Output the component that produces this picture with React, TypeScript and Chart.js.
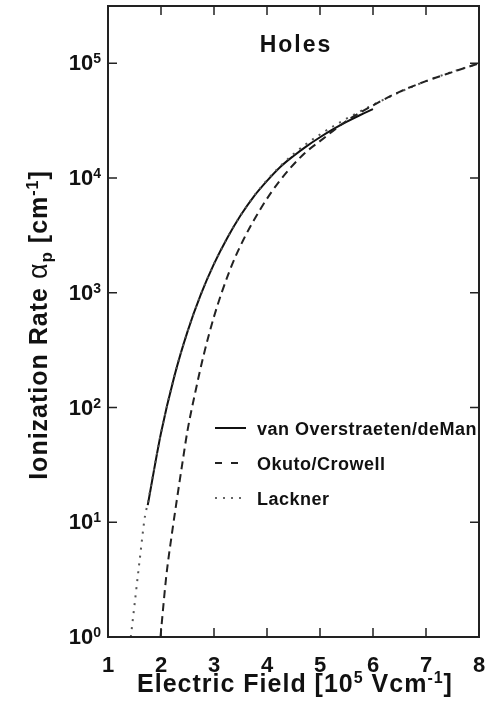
import React, { useEffect, useRef } from 'react';
import { Chart, registerables } from 'chart.js';

Chart.register(...registerables);

// ---- data ----
const vosX = [1.75, 2.0, 2.25, 2.5, 2.75, 3.0, 3.25, 3.5, 3.75, 4.0, 4.25, 4.5, 4.75, 5.0, 5.25, 5.5, 5.75, 6.0];
const vosY = [14.1, 60, 186, 459, 963, 1786, 3006, 4716, 6900, 9450, 12500, 15600, 19000, 22700, 26700, 30900, 35300, 39900];

const okutoX = [1.99, 2.1, 2.2, 2.3, 2.4, 2.5, 2.65, 2.8, 3.0, 3.3, 3.55, 3.9, 4.25, 4.7, 5.0, 5.5, 6.0, 6.5, 7.0, 7.5, 8.0];
const okutoY = [1.0, 3.4, 7.6, 15.8, 32, 63, 138, 280, 620, 1580, 2870, 5600, 9600, 16300, 21000, 31500, 43000, 56500, 70000, 84000, 100000];

const lacknerX = [1.43, 1.5, 1.6, 1.7, 1.75, 1.8, 2.0, 2.25, 2.5, 2.75, 3.0, 3.25, 3.5, 3.75, 4.0, 4.25, 4.5, 4.75, 5.0, 5.25, 5.5, 5.75, 6.0, 6.5, 7.0, 7.5, 8.0];
const lacknerY = [1.0, 1.9, 4.8, 11.5, 14.5, 19.5, 60, 186, 459, 963, 1786, 3006, 4716, 6950, 9600, 12700, 16200, 20000, 24000, 28300, 33000, 38000, 43500, 56000, 70000, 84500, 100000];

const seriesNames = ['van Overstraeten/deMan', 'Okuto/Crowell', 'Lackner'];
const xTickValues = [1, 2, 3, 4, 5, 6, 7, 8];
const yTickExponents = [0, 1, 2, 3, 4, 5];
const panelTitle = 'Holes';

const X_MIN = 1;
const X_MAX = 8;
const Y_MIN = 1;
const Y_MAX = 316228;

const FONT = '"Liberation Sans", Arial, Helvetica, sans-serif';

type Part = { t: string; size: number; dy?: number; weight?: string; family?: string };

function font(p: Part) {
  return `${p.weight ?? 'bold'} ${p.size}px ${p.family ?? FONT}`;
}

function measureParts(ctx: CanvasRenderingContext2D, parts: Part[]) {
  let w = 0;
  for (const p of parts) {
    ctx.font = font(p);
    w += ctx.measureText(p.t).width;
  }
  return w;
}

function drawParts(ctx: CanvasRenderingContext2D, parts: Part[], x: number, y: number, align: 'left' | 'center' | 'right') {
  const total = measureParts(ctx, parts);
  let cx = align === 'left' ? x : align === 'center' ? x - total / 2 : x - total;
  ctx.textAlign = 'left';
  ctx.textBaseline = 'alphabetic';
  for (const p of parts) {
    ctx.font = font(p);
    ctx.fillText(p.t, cx, y + (p.dy ?? 0));
    cx += ctx.measureText(p.t).width;
  }
}

const decorPlugin = {
  id: 'decor',
  afterDraw(chart: any) {
    const ctx: CanvasRenderingContext2D = chart.ctx;
    const { left, right, top, bottom } = chart.chartArea;
    const xs = chart.scales.x;
    const ys = chart.scales.y;
    ctx.save();
    ctx.fillStyle = '#111';
    ctx.strokeStyle = '#222';

    // frame
    ctx.lineWidth = 2;
    ctx.setLineDash([]);
    ctx.strokeRect(left, top, right - left, bottom - top);

    // ticks (inside, all four sides)
    ctx.lineWidth = 1.5;
    const tl = 9;
    for (const v of xTickValues) {
      const px = xs.getPixelForValue(v);
      ctx.beginPath();
      ctx.moveTo(px, bottom);
      ctx.lineTo(px, bottom - tl);
      ctx.moveTo(px, top);
      ctx.lineTo(px, top + tl);
      ctx.stroke();
    }
    for (const e of yTickExponents) {
      const py = ys.getPixelForValue(Math.pow(10, e));
      ctx.beginPath();
      ctx.moveTo(left, py);
      ctx.lineTo(left + tl, py);
      ctx.moveTo(right, py);
      ctx.lineTo(right - tl, py);
      ctx.stroke();
    }

    // x tick labels
    ctx.letterSpacing = '0px';
    for (const v of xTickValues) {
      const px = xs.getPixelForValue(v);
      drawParts(ctx, [{ t: String(v), size: 22 }], px, 672, 'center');
    }
    // y tick labels 10^n
    for (const e of yTickExponents) {
      const py = ys.getPixelForValue(Math.pow(10, e));
      drawParts(ctx, [{ t: '10', size: 22 }, { t: String(e), size: 14, dy: -7 }], 101, py + 7, 'right');
    }

    // x axis title
    ctx.letterSpacing = '1px';
    drawParts(
      ctx,
      [
        { t: 'Electric Field [10', size: 25 },
        { t: '5', size: 16, dy: -9 },
        { t: ' Vcm', size: 25 },
        { t: '-1', size: 16, dy: -9 },
        { t: ']', size: 25 },
      ],
      295,
      692,
      'center'
    );

    // y axis title
    ctx.save();
    ctx.translate(47, 325);
    ctx.rotate(-Math.PI / 2);
    drawParts(
      ctx,
      [
        { t: 'Ionization Rate ', size: 25 },
        { t: 'α', size: 27, weight: 'normal' },
        { t: 'p', size: 17, dy: 5 },
        { t: ' [cm', size: 25 },
        { t: '-1', size: 16, dy: -9 },
        { t: ']', size: 25 },
      ],
      0,
      0,
      'center'
    );
    ctx.restore();

    // panel title
    ctx.letterSpacing = '2px';
    drawParts(ctx, [{ t: panelTitle, size: 23 }], 296, 52, 'center');

    // legend
    ctx.letterSpacing = '0.5px';
    const rows = [428, 463, 498];
    const styles: { dash: number[]; width: number; color: string }[] = [
      { dash: [], width: 2, color: '#111' },
      { dash: [7, 9], width: 2, color: '#222' },
      { dash: [2, 6], width: 2, color: '#666' },
    ];
    rows.forEach((ry, i) => {
      const s = styles[i];
      ctx.strokeStyle = s.color;
      ctx.lineWidth = s.width;
      ctx.setLineDash(s.dash);
      ctx.beginPath();
      ctx.moveTo(215, ry);
      ctx.lineTo(246, ry);
      ctx.stroke();
      ctx.setLineDash([]);
      drawParts(ctx, [{ t: seriesNames[i], size: 18 }], 257, ry + 6.5, 'left');
    });

    ctx.restore();
  },
};

function pts(xs: number[], ys: number[]) {
  return xs.map((x, i) => ({ x, y: ys[i] }));
}

export default function App() {
  const ref = useRef<HTMLCanvasElement | null>(null);
  useEffect(() => {
    if (!ref.current) return;
    const chart = new Chart(ref.current, {
      type: 'line',
      data: {
        datasets: [
          {
            label: seriesNames[1],
            data: pts(okutoX, okutoY),
            borderColor: '#222',
            borderWidth: 2,
            borderDash: [8, 5],
            pointRadius: 0,
            fill: false,
            cubicInterpolationMode: 'monotone',
          },
          {
            label: seriesNames[2],
            data: pts(lacknerX, lacknerY),
            borderColor: '#555',
            borderWidth: 2,
            borderDash: [2, 6],
            pointRadius: 0,
            fill: false,
            cubicInterpolationMode: 'monotone',
          },
          {
            label: seriesNames[0],
            data: pts(vosX, vosY),
            borderColor: '#111',
            borderWidth: 2,
            pointRadius: 0,
            fill: false,
            cubicInterpolationMode: 'monotone',
          },
        ],
      },
      options: {
        responsive: false,
        maintainAspectRatio: false,
        devicePixelRatio: 1,
        animation: false,
        layout: { padding: { left: 108, top: 6, right: 10, bottom: 75 } },
        plugins: { legend: { display: false }, tooltip: { enabled: false } },
        scales: {
          x: { type: 'linear', min: X_MIN, max: X_MAX, display: false },
          y: { type: 'logarithmic', min: Y_MIN, max: Y_MAX, display: false },
        },
      },
      plugins: [decorPlugin],
    } as any);
    return () => chart.destroy();
  }, []);
  return (
    <div style={{ position: 'fixed', left: 0, top: 0, width: 489, height: 712, background: '#fff' }}>
      <canvas ref={ref} width={489} height={712} style={{ display: 'block' }} />
    </div>
  );
}
